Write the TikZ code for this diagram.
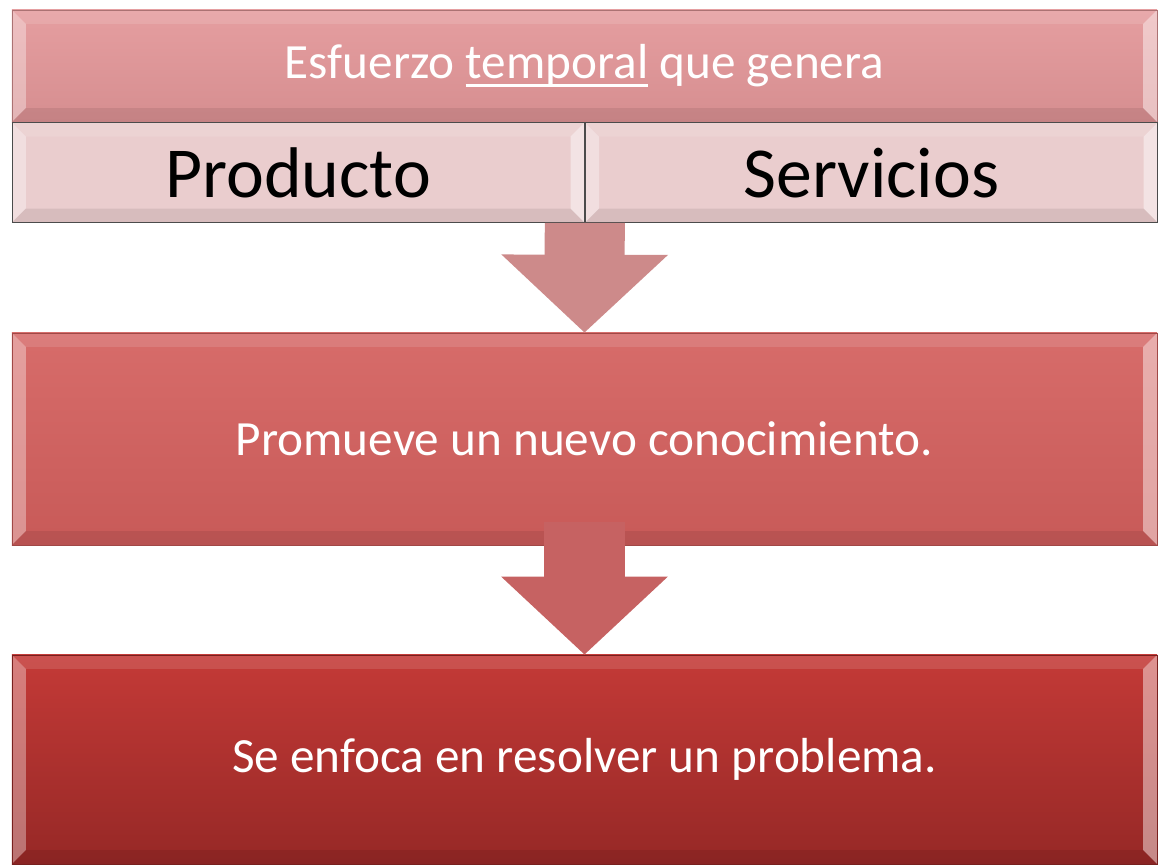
\documentclass[tikz,border=0pt]{standalone}
\usepackage{fontspec}
\setmainfont{Carlito}
\usepackage{tikz}
\usetikzlibrary{positioning,arrows.meta}

\definecolor{esfTop}{RGB}{229,158,160}
\definecolor{esfBot}{RGB}{214,142,144}
\definecolor{subFill}{RGB}{234,205,206}
\definecolor{subLine}{RGB}{75,75,75}
\definecolor{promTop}{RGB}{215,108,106}
\definecolor{promBot}{RGB}{200,90,88}
\definecolor{enfTop}{RGB}{196,58,55}
\definecolor{enfBot}{RGB}{150,40,38}
\definecolor{arrowA}{RGB}{205,138,138}
\definecolor{arrowB}{RGB}{198,98,98}

% underlined word with a heavier rule
\newcommand{\ulword}[1]{\setbox0\hbox{#1}\rlap{\raisebox{-5.5pt}{\rule{\wd0}{1.6pt}}}#1}

\tikzset{
  bevel/.style={path picture={
      % left and right light edges, darker bottom edge
      \fill[white,opacity=0.35] (path picture bounding box.south west) -- ([xshift=0.35cm,yshift=0.35cm]path picture bounding box.south west)
        -- ([xshift=0.35cm,yshift=-0.35cm]path picture bounding box.north west) -- (path picture bounding box.north west) -- cycle;
      \fill[white,opacity=0.45] (path picture bounding box.south east) -- ([xshift=-0.35cm,yshift=0.35cm]path picture bounding box.south east)
        -- ([xshift=-0.35cm,yshift=-0.35cm]path picture bounding box.north east) -- (path picture bounding box.north east) -- cycle;
      \fill[white,opacity=0.12] (path picture bounding box.north west) -- ([xshift=0.35cm,yshift=-0.35cm]path picture bounding box.north west)
        -- ([xshift=-0.35cm,yshift=-0.35cm]path picture bounding box.north east) -- (path picture bounding box.north east) -- cycle;
      \fill[black,opacity=0.08] (path picture bounding box.south west) -- ([xshift=0.35cm,yshift=0.35cm]path picture bounding box.south west)
        -- ([xshift=-0.35cm,yshift=0.35cm]path picture bounding box.south east) -- (path picture bounding box.south east) -- cycle;
    }},
  box/.style={rectangle, inner sep=0pt, text=white, font=\fontsize{35}{42}\selectfont, bevel},
  blockarrow/.style={line width=2cm, -{Triangle[width=4.05cm,length=1.95cm]}}
}

\begin{document}
\begin{tikzpicture}[x=0.025cm,y=-0.025cm]
  \useasboundingbox (0,0) rectangle (1160,864);

  % Define the boxes
  \node[box, minimum width=28.625cm, minimum height=2.8cm, top color=esfTop, bottom color=esfBot, draw=esfBot!80!black]
    (esfuerzo) at (584.5,66) {Esfuerzo \ulword{temporal} que genera};
  \node[box, anchor=north west, minimum width=14.3125cm, minimum height=2.5cm, fill=subFill, draw=subLine, text=black,
    font=\fontsize{51}{60}\selectfont] (producto) at (esfuerzo.south west) {Producto};
  \node[box, right=0pt of producto, minimum width=14.3125cm, minimum height=2.5cm, fill=subFill, draw=subLine, text=black,
    font=\fontsize{51}{60}\selectfont] (servicios) {Servicios};
  \node[box, minimum width=28.625cm, minimum height=5.3cm, top color=promTop, bottom color=promBot, draw=promBot!80!black]
    (promueve) at (584.5,439) {Promueve un nuevo conocimiento.};
  \node[box, minimum width=28.625cm, minimum height=5.225cm, top color=enfTop, bottom color=enfBot, draw=enfBot!80!black]
    (enfoca) at (584.5,759.5) {Se enfoca en resolver un problema.};

  % Draw the arrows between them
  \coordinate (start2) at ([yshift=0.575cm]promueve.south);
  \draw[blockarrow, arrowA] (producto.south east) -- (promueve.north);
  \draw[blockarrow, arrowB] (start2) -- (enfoca.north);
\end{tikzpicture}
\end{document}
